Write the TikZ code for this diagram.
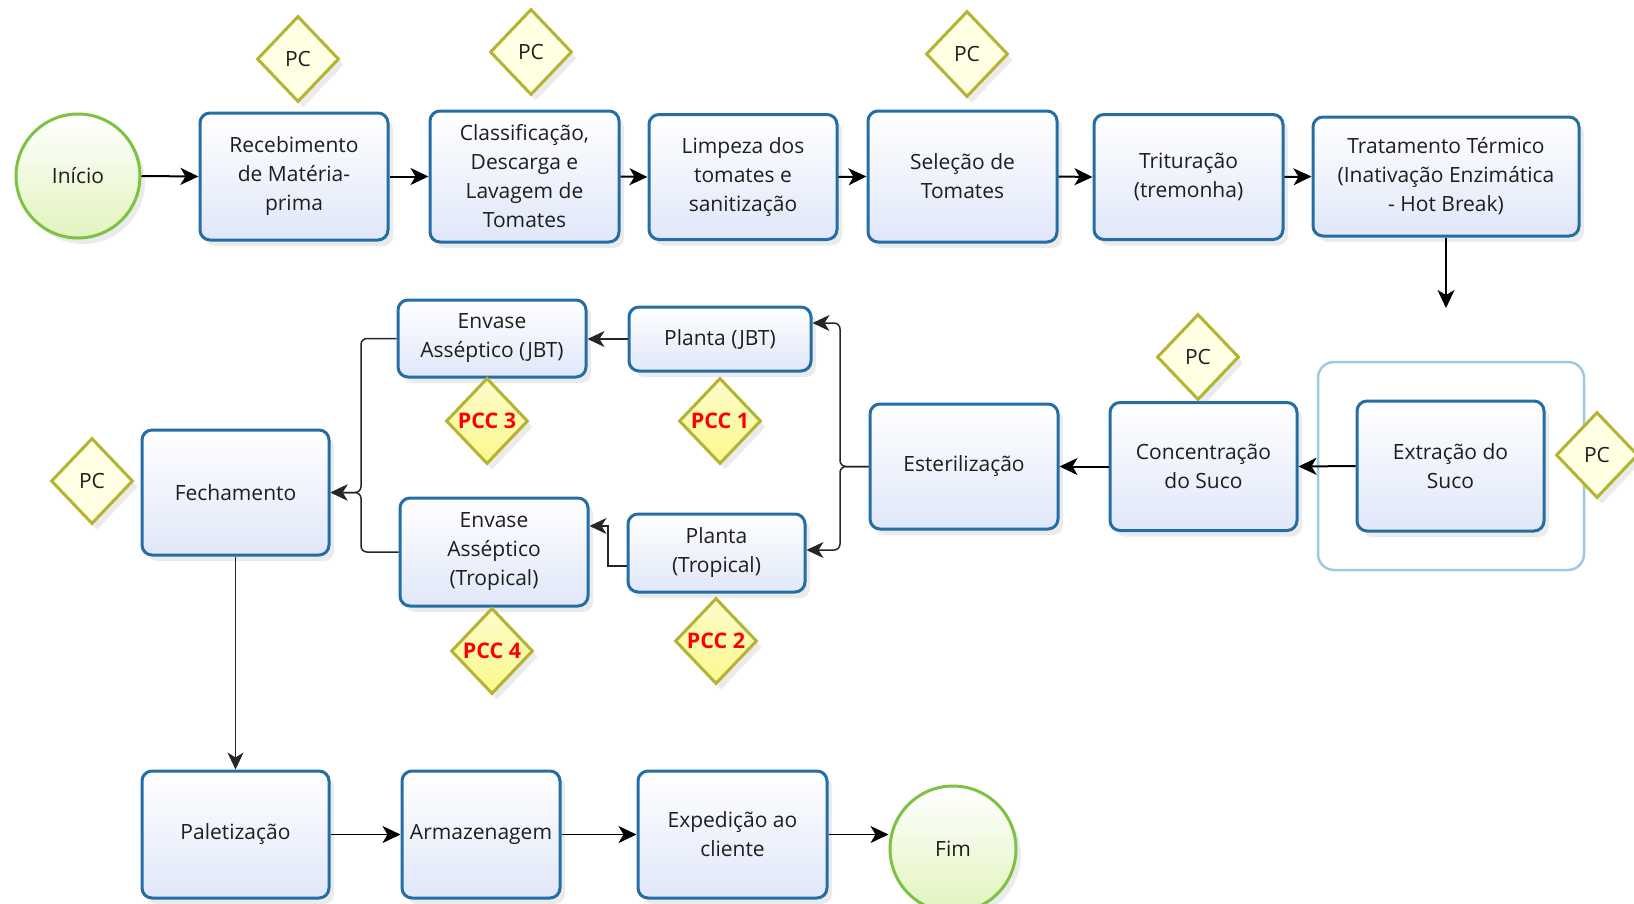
\documentclass[tikz,border=0pt]{standalone}
\usepackage{fontspec}
\setmainfont{Open Sans}
\usetikzlibrary{shapes.geometric,arrows.meta,shadows,calc}
\definecolor{boxborder}{RGB}{36,110,165}
\definecolor{boxfill}{RGB}{224,231,249}
\definecolor{dborder}{RGB}{180,180,50}
\definecolor{pcfill}{RGB}{255,255,228}
\definecolor{pccfill}{RGB}{250,248,140}
\definecolor{cborder}{RGB}{125,194,66}
\definecolor{cfill}{RGB}{226,244,190}
\definecolor{grp}{RGB}{160,200,222}
\definecolor{txt}{RGB}{30,30,30}
\begin{document}
\begin{tikzpicture}[x=1pt,y=-1pt,
  lbl/.style={font=\fontsize{21}{29}\selectfont, text=txt, align=center},
  shad/.style={drop shadow={opacity=0.16, shadow xshift=5pt, shadow yshift=-6pt}},
  box/.style={lbl, shad, draw=boxborder, line width=3pt, rounded corners=10pt, top color=white, bottom color=boxfill, inner sep=2pt},
  pc/.style={lbl, shad, diamond, draw=dborder, line width=3pt, fill=pcfill, minimum width=82pt, minimum height=86pt, inner sep=0pt},
  pcc/.style={pc, top color=pccfill!45, bottom color=pccfill, font=\bfseries\fontsize{21.5}{24}\selectfont, text=red},
  term/.style={lbl, shad, circle, draw=cborder, line width=3pt, top color=white, bottom color=cfill, minimum size=124pt, inner sep=0pt},
  arr/.style={-{Stealth[length=18pt,width=17pt,inset=5pt]}, line width=2pt, black},
  tarr/.style={-{Stealth[length=17pt,width=16pt,inset=5pt]}, line width=1.5pt, black!85}
]
\useasboundingbox (0,0) rectangle (1634,903);
% group frame
\draw[grp, line width=2.5pt, rounded corners=16pt] (1318,362) rectangle (1584,570);
% top row
\node[term] (ini) at (78,176) {Início};
\node[box, minimum width=188pt, minimum height=127pt] (rec) at (294,176.5) {Recebimento\\de Matéria-\\prima};
\node[box, minimum width=189pt, minimum height=131pt] (cla) at (524.5,176.5) {Classificação,\\Descarga e\\Lavagem de\\Tomates};
\node[box, minimum width=188pt, minimum height=125pt] (lim) at (743,177) {Limpeza dos\\tomates e\\sanitização};
\node[box, minimum width=189pt, minimum height=131pt] (sel) at (962.5,176.5) {Seleção de\\Tomates};
\node[box, minimum width=189pt, minimum height=125pt] (tri) at (1188.5,177) {Trituração\\(tremonha)};
\node[box, minimum width=266pt, minimum height=119pt] (trat) at (1446,176.5) {Tratamento Térmico\\(Inativação Enzimática\\- Hot Break)};
\node[pc] (d1) at (298,59) {PC};
\node[pc] (d2) at (531,52) {PC};
\node[pc] (d3) at (967,54) {PC};
% middle row
\node[box, minimum width=187pt, minimum height=130pt] (ext) at (1450.5,466) {Extração do\\Suco};
\node[box, minimum width=187pt, minimum height=128pt] (con) at (1203.5,466.5) {Concentração\\do Suco};
\node[box, minimum width=188pt, minimum height=125pt] (est) at (964,466.5) {Esterilização};
\node[pc] (d4) at (1198,357) {PC};
\node[pc] (d5) at (1597,455) {PC};
\node[box, minimum width=182pt, minimum height=64pt] (pjbt) at (720,339) {Planta (JBT)};
\node[box, minimum width=188pt, minimum height=77pt] (ejbt) at (492,338.5) {Envase\\Asséptico (JBT)};
\node[box, minimum width=177pt, minimum height=78pt] (ptr) at (716.5,553) {Planta\\(Tropical)};
\node[box, minimum width=188pt, minimum height=108pt] (etr) at (494,552) {Envase\\Asséptico\\(Tropical)};
\node[box, minimum width=187pt, minimum height=125pt] (fech) at (235.5,492.5) {Fechamento};
\node[pc] (d6) at (92,481) {PC};
\node[pcc] (p1) at (720,421) {PCC 1};
\node[pcc] (p3) at (487,421) {PCC 3};
\node[pcc] (p2) at (716,641) {PCC 2};
\node[pcc] (p4) at (492,651) {PCC 4};
% bottom row
\node[box, minimum width=187pt, minimum height=127pt] (pal) at (235.5,834.5) {Paletização};
\node[box, minimum width=158pt, minimum height=127pt] (arm) at (481,834.5) {Armazenagem};
\node[box, minimum width=189pt, minimum height=127pt] (exp) at (732.5,834.5) {Expedição ao\\cliente};
\node[term, minimum size=126pt] (fim) at (953,849) {Fim};
% connectors
\draw[arr] (ini.east) -- (rec.west);
\draw[arr] (rec.east) -- (cla.west);
\draw[arr] (cla.east) -- (lim.west);
\draw[arr] (lim.east) -- (sel.west);
\draw[arr] (sel.east) -- (tri.west);
\draw[arr] (tri.east) -- (trat.west);
\coordinate (tend) at (1446,308);
\draw[arr] (trat.south) -- (tend);
\draw[arr] (ext.west) -- (con.east);
\draw[arr] (con.west) -- (est.east);
\coordinate (fk) at (840,466.5);
\draw[tarr, rounded corners=6pt] (est.west) -- (fk) |- ([yshift=16pt]pjbt.east);
\draw[tarr, rounded corners=6pt] (est.west) -- (fk) |- ([yshift=3pt]ptr.east);
\draw[tarr] (pjbt.west) -- (pjbt.west -| ejbt.east);
\coordinate (pv) at (608,526);
\draw[tarr] ([yshift=-13pt]ptr.west) -| (pv) -- (pv -| etr.east);
\coordinate (mg) at (361,492.5);
\draw[tarr, rounded corners=6pt] (ejbt.west) -| (mg) -- (fech.east);
\draw[tarr, rounded corners=6pt] (etr.west) -| (mg) -- (fech.east);
\draw[tarr] (fech.south) -- (pal.north);
\draw[arr, line width=1.6pt] (pal.east) -- (arm.west);
\draw[arr, line width=1.6pt] (arm.east) -- (exp.west);
\draw[arr, line width=1.6pt] (exp.east) -- (exp.east -| fim.west);
\end{tikzpicture}
\end{document}
